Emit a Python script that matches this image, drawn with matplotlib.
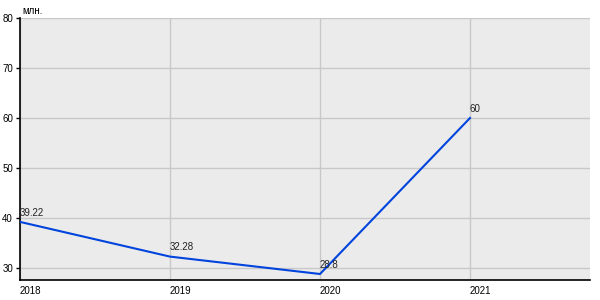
import matplotlib
matplotlib.use('Agg')
import matplotlib.pyplot as plt

years = [2018, 2019, 2020, 2021]
values = [39.22, 32.28, 28.8, 60]
labels = ['39.22', '32.28', '28.8', '60']
yticks = [30, 40, 50, 60, 70, 80]

plt.rcParams['font.family'] = ['Liberation Sans', 'DejaVu Sans']

fig = plt.figure(figsize=(6, 3), dpi=100)
ax = fig.add_axes([20/600, 20/300, 570/600, 262/300])
ax.set_facecolor('#ebebeb')

ax.plot(years, values, color='#0044dd', linewidth=1.5, zorder=3)
for x, y, t in zip(years, values, labels):
    ax.annotate(t, (x, y), xytext=(0, 3), textcoords='offset points',
                fontsize=7, ha='left', va='bottom', color='#222222', zorder=4)

ax.set_xlim(2018, 2021.8)
ax.set_ylim(27.6, 80)
ax.set_xticks(years)
ax.set_xticklabels([str(y) for y in years], fontsize=7, ha='left')
ax.set_yticks(yticks)
ax.set_yticklabels([str(v) for v in yticks], fontsize=7)
ax.tick_params(axis='x', length=0, pad=4)
ax.tick_params(axis='y', length=3, width=1, pad=2)
ax.grid(True, color='#c8c8c8', linewidth=1)
ax.set_axisbelow(True)
for s in ['top', 'right']:
    ax.spines[s].set_visible(False)
for s in ['left', 'bottom']:
    ax.spines[s].set_color('black')
    ax.spines[s].set_linewidth(1.2)

fig.text(22/600, 1 - 16/300, 'млн.', fontsize=7, ha='left', va='bottom')

fig.savefig('out.png', dpi=100)
